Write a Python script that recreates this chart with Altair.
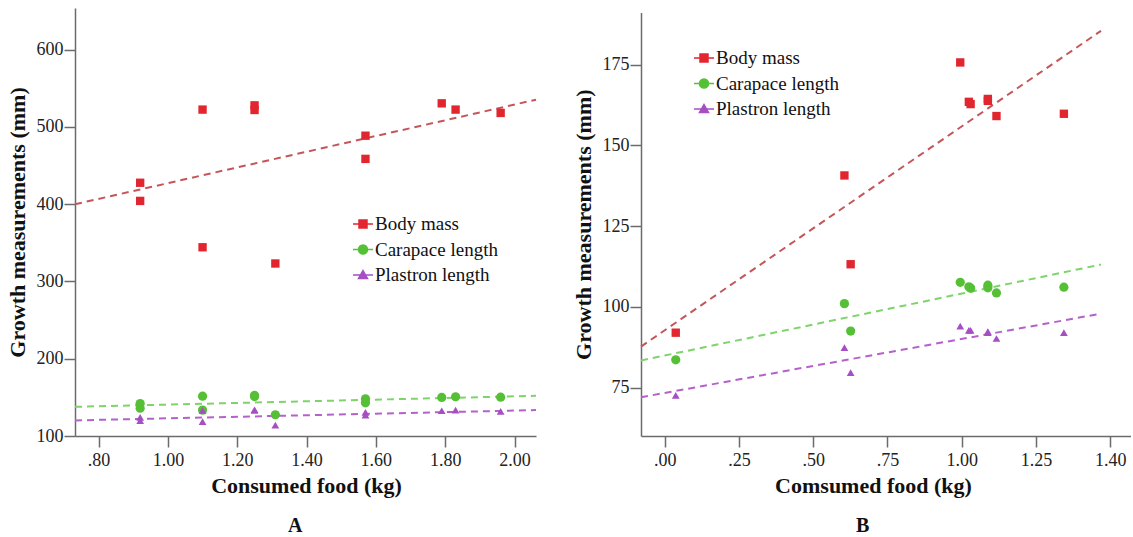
import altair as alt
import pandas as pd

SERIES = ["Body mass", "Carapace length", "Plastron length"]
POINT_COLORS = ["#e2262f", "#55c035", "#a64ec4"]
LINE_COLORS = ["#c4565a", "#7ed46a", "#b561cc"]
POINT_SHAPES = ["square", "circle", "triangle-up"]
POINT_SIZES = [70, 85, 60]
LEGEND_PATHS = [
    "M-1,0H1M-0.4,-0.4H0.4V0.4H-0.4Z",
    "M-1,0H1M-0.45,0A0.45,0.45,0,1,0,0.45,0A0.45,0.45,0,1,0,-0.45,0Z",
    "M-1,0H1M0,-0.45L0.45,0.35H-0.45Z",
]

# ---- Panel A data ----
a_food = [0.92, 0.92, 1.10, 1.10, 1.25, 1.25, 1.31, 1.57, 1.57, 1.79, 1.83, 1.96]
a_body = [427.8, 404.3, 522.5, 344.3, 528.0, 522.0, 323.3, 488.7, 458.7, 530.6, 522.5, 518.2]
a_carapace = [142.0, 136.0, 151.6, 133.5, 152.5, 151.0, 127.5, 148.2, 143.0, 149.9, 150.8, 150.3]
a_plastron = [124.0, 120.0, 133.0, 118.5, 134.0, 133.0, 114.2, 130.5, 127.0, 132.7, 133.5, 131.8]
a_fit_food = [0.732, 2.062]
a_fit_body = [400.0, 535.3]
a_fit_carapace = [137.8, 152.0]
a_fit_plastron = [120.2, 133.5]
a_xticks = [0.8, 1.0, 1.2, 1.4, 1.6, 1.8, 2.0]
a_xlabels = [".80", "1.00", "1.20", "1.40", "1.60", "1.80", "2.00"]
a_yticks = [100, 200, 300, 400, 500, 600]

# ---- Panel B data ----
b_food = [0.037, 0.605, 0.626, 0.995, 1.024, 1.03, 1.088, 1.088, 1.117, 1.344]
b_body = [92.0, 140.7, 113.2, 175.7, 163.5, 162.8, 164.4, 163.8, 159.1, 159.8]
b_carapace = [83.6, 101.0, 92.5, 107.6, 106.2, 105.8, 106.7, 105.9, 104.3, 106.1]
b_plastron = [72.6, 87.4, 79.6, 94.0, 92.7, 92.7, 92.3, 92.0, 90.2, 92.0]
b_fit_food = [-0.08, 1.469]
b_fit_body = [87.7, 185.5]
b_fit_carapace = [83.4, 113.1]
b_fit_plastron = [72.0, 97.9]
b_xticks = [0.0, 0.25, 0.5, 0.75, 1.0, 1.25, 1.5]
b_xlabels = [".00", ".25", ".50", ".75", "1.00", "1.25", "1.40"]
b_yticks = [75, 100, 125, 150, 175]

SERIF = "Liberation Serif"


def long_df(food, *cols):
    rows = []
    for s, vals in zip(SERIES, cols):
        for x, y in zip(food, vals):
            rows.append({"food": x, "value": y, "series": s})
    return pd.DataFrame(rows)


def label_expr(vals, labels):
    expr = "''"
    for v, l in zip(vals[::-1], labels[::-1]):
        expr = f"abs(datum.value - ({v})) < 1e-6 ? '{l}' : ({expr})"
    return expr


def panel(points, fits, xdom, ydom, yrange, xticks, xlabels, yticks, xtitle,
          ptitle, legend_xy, width, height, title_x, ptitle_dx):
    x = alt.X("food:Q",
              scale=alt.Scale(domain=xdom, nice=False, zero=False),
              axis=alt.Axis(values=xticks, labelExpr=label_expr(xticks, xlabels),
                            title=xtitle, titleX=title_x, titlePadding=6,
                            labelPadding=4))
    if yrange is not None:
        yscale = alt.Scale(domain=ydom, nice=False, zero=False, range=yrange)
    else:
        yscale = alt.Scale(domain=ydom, nice=False, zero=False)
    y = alt.Y("value:Q", scale=yscale,
              axis=alt.Axis(values=yticks, title="Growth measurements (mm)",
                            titlePadding=7, labelPadding=1))
    layers = []
    for s, lc in zip(SERIES, LINE_COLORS):
        layers.append(
            alt.Chart(fits).mark_line(strokeDash=[7, 5], strokeWidth=2, color=lc)
            .encode(x=x, y=y)
            .transform_filter(alt.datum.series == s)
        )
    for s, pc, shp, sz in zip(SERIES, POINT_COLORS, POINT_SHAPES, POINT_SIZES):
        layers.append(
            alt.Chart(points).mark_point(filled=True, opacity=1, shape=shp,
                                         size=sz, color=pc)
            .encode(x=x, y=y)
            .transform_filter(alt.datum.series == s)
        )
    leg = alt.Legend(title=None, orient="none", legendX=legend_xy[0],
                     legendY=legend_xy[1], symbolSize=400, symbolStrokeWidth=1.5,
                     symbolOpacity=1, labelFont=SERIF, labelFontSize=19,
                     labelColor="#111111", labelOffset=1, rowPadding=4.5,
                     padding=0, labelLimit=300)
    layers.append(
        alt.Chart(points).mark_point(filled=True, opacity=1, strokeWidth=1.5)
        .encode(
            x=x, y=y,
            color=alt.Color("series:N", scale=alt.Scale(domain=SERIES, range=POINT_COLORS), legend=leg),
            stroke=alt.Stroke("series:N", scale=alt.Scale(domain=SERIES, range=POINT_COLORS), legend=leg),
            shape=alt.Shape("series:N", scale=alt.Scale(domain=SERIES, range=LEGEND_PATHS), legend=leg),
        )
        .transform_filter("false")
    )
    return alt.layer(*layers).properties(
        width=width, height=height,
        title=alt.TitleParams(ptitle, orient="bottom", anchor="start", frame="group",
                              dx=ptitle_dx, offset=20, font=SERIF, fontSize=20,
                              fontWeight="bold", color="#111111"),
    )


a_points = long_df(a_food, a_body, a_carapace, a_plastron)
a_fits = long_df(a_fit_food, a_fit_body, a_fit_carapace, a_fit_plastron)
b_points = long_df(b_food, b_body, b_carapace, b_plastron)
b_fits = long_df(b_fit_food, b_fit_body, b_fit_carapace, b_fit_plastron)

HEIGHT = 428
chart_a = panel(a_points, a_fits, [0.732, 2.062], [100, 654], None,
                a_xticks, a_xlabels, a_yticks, "Consumed food (kg)", "A",
                (277, 205), 461, HEIGHT, 231, 213)
chart_b = panel(b_points, b_fits, [-0.08, 1.57], [60, 191.2], [HEIGHT, 4.4],
                b_xticks, b_xlabels, b_yticks, "Comsumed food (kg)", "B",
                (52, 39), 490, HEIGHT, 232, 215)

chart = (
    alt.hconcat(chart_a, chart_b, spacing=32)
    .resolve_scale(color="independent", stroke="independent", shape="independent")
    .resolve_legend(color="independent", stroke="independent", shape="independent")
    .configure_view(stroke=None)
    .configure_axis(
        grid=False, domainColor="#6b6b6b", domainWidth=1.5, tickColor="#6b6b6b",
        tickWidth=1.5, tickSize=11, labelFont=SERIF, labelFontSize=18,
        labelColor="#222222", titleFont=SERIF, titleFontSize=22, titleFontWeight="bold",
        titleColor="#111111",
    )
    .properties(background="white",
                padding={"left": 6, "top": 8, "right": 0, "bottom": 0})
)

chart.save("out.html", embed_options={"renderer": "svg", "actions": False})
